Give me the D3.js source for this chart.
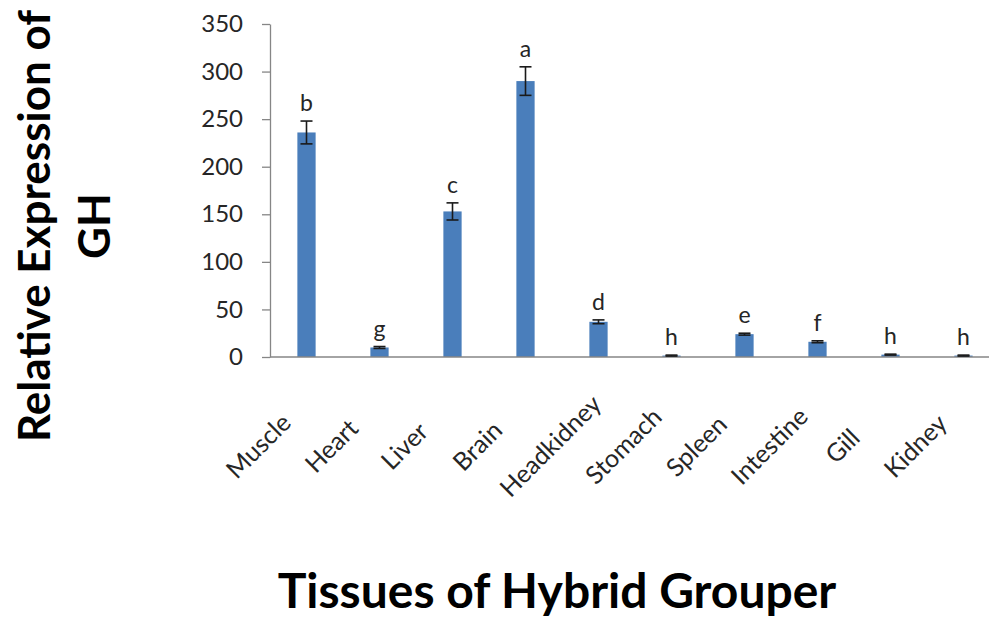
<!DOCTYPE html>
<html>
<head>
<meta charset="utf-8">
<script src="https://cdn.jsdelivr.net/npm/d3@7"></script>
<style>
  html, body { margin: 0; padding: 0; background: #fff; }
  svg { display: block; font-family: Lato, "Open Sans", sans-serif; }
</style>
</head>
<body>
<svg id="chart" width="989" height="617"></svg>
<script>
// Relative GH expression across tissues of the hybrid grouper
const tissues = ["Muscle", "Heart", "Liver", "Brain", "Headkidney", "Stomach", "Spleen", "Intestine", "Gill", "Kidney"];
const expression = [236, 10, 153, 290, 37, 1.5, 24, 16, 2.5, 1.5];
const stdErr = [12, 1, 9, 15, 2, 0.5, 1, 1, 0.5, 0.5];
const groupLetters = ["b", "g", "c", "a", "d", "h", "e", "f", "h", "h"];
const yTicks = [0, 50, 100, 150, 200, 250, 300, 350];

const svg = d3.select("#chart");
const plot = { left: 270, right: 1000, top: 24, bottom: 357 };

const x = d3.scaleBand()
  .domain(tissues)
  .range([plot.left, plot.right])
  .paddingInner(0.75)
  .paddingOuter(0.375);

const y = d3.scaleLinear()
  .domain([0, 350])
  .range([plot.bottom, plot.top]);

const rows = tissues.map((t, i) => ({ t, v: expression[i], e: stdErr[i], g: groupLetters[i] }));

// y axis with outward tick marks
const yAxis = svg.append("g")
  .attr("transform", `translate(${plot.left},0)`)
  .call(d3.axisLeft(y).tickValues(yTicks).tickSize(8).tickPadding(19).tickSizeOuter(0));
yAxis.select(".domain").attr("stroke", "#868686").attr("stroke-width", 1.3);
yAxis.selectAll(".tick line").attr("stroke", "#868686").attr("stroke-width", 1.3);
yAxis.selectAll(".tick text")
  .attr("font-size", 24)
  .attr("font-family", "Lato, sans-serif")
  .attr("fill", "#262626");

// bars
svg.append("g").selectAll("rect")
  .data(rows)
  .join("rect")
  .attr("x", d => x(d.t))
  .attr("width", x.bandwidth())
  .attr("y", d => y(d.v))
  .attr("height", d => y(0) - y(d.v))
  .attr("fill", "#4a7ebb");

// x axis baseline
svg.append("line")
  .attr("x1", plot.left).attr("x2", plot.right)
  .attr("y1", y(0)).attr("y2", y(0))
  .attr("stroke", "#868686").attr("stroke-width", 1.3);

// error bars
const capHalf = 6;
const err = svg.append("g").attr("stroke", "#1a1a1a").attr("stroke-width", 1.6);
rows.forEach(d => {
  const cx = x(d.t) + x.bandwidth() / 2;
  err.append("line").attr("x1", cx).attr("x2", cx).attr("y1", y(d.v + d.e)).attr("y2", y(d.v - d.e));
  err.append("line").attr("x1", cx - capHalf).attr("x2", cx + capHalf).attr("y1", y(d.v + d.e)).attr("y2", y(d.v + d.e));
  err.append("line").attr("x1", cx - capHalf).attr("x2", cx + capHalf).attr("y1", y(d.v - d.e)).attr("y2", y(d.v - d.e));
});

// significance letters
svg.append("g").selectAll("text")
  .data(rows)
  .join("text")
  .attr("x", d => x(d.t) + x.bandwidth() / 2)
  .attr("y", d => y(d.v + d.e) - 10)
  .attr("text-anchor", "middle")
  .attr("font-size", 23)
  .attr("fill", "#262626")
  .text(d => d.g);

// rotated category labels, each centred on a point below and left of its bar
svg.append("g").selectAll("text")
  .data(rows)
  .join("text")
  .attr("transform", d => `translate(${x(d.t) + x.bandwidth() / 2 - 48},${plot.bottom + 89}) rotate(-45)`)
  .attr("text-anchor", "middle")
  .attr("dy", "0.35em")
  .attr("font-size", 25)
  .attr("fill", "#262626")
  .text(d => d.t);

// axis titles
svg.append("text")
  .attr("x", 557).attr("y", 608)
  .attr("text-anchor", "middle")
  .attr("font-size", 48)
  .attr("font-weight", "bold")
  .attr("fill", "#000")
  .text("Tissues of Hybrid Grouper");

const yTitle = svg.append("text")
  .attr("transform", "translate(0,226) rotate(-90)")
  .attr("text-anchor", "middle")
  .attr("font-size", 44)
  .attr("font-weight", "bold")
  .attr("fill", "#000");
yTitle.append("tspan").attr("x", 0).attr("y", 50).text("Relative Expression of");
yTitle.append("tspan").attr("x", 0).attr("y", 110).text("GH");
</script>
</body>
</html>
